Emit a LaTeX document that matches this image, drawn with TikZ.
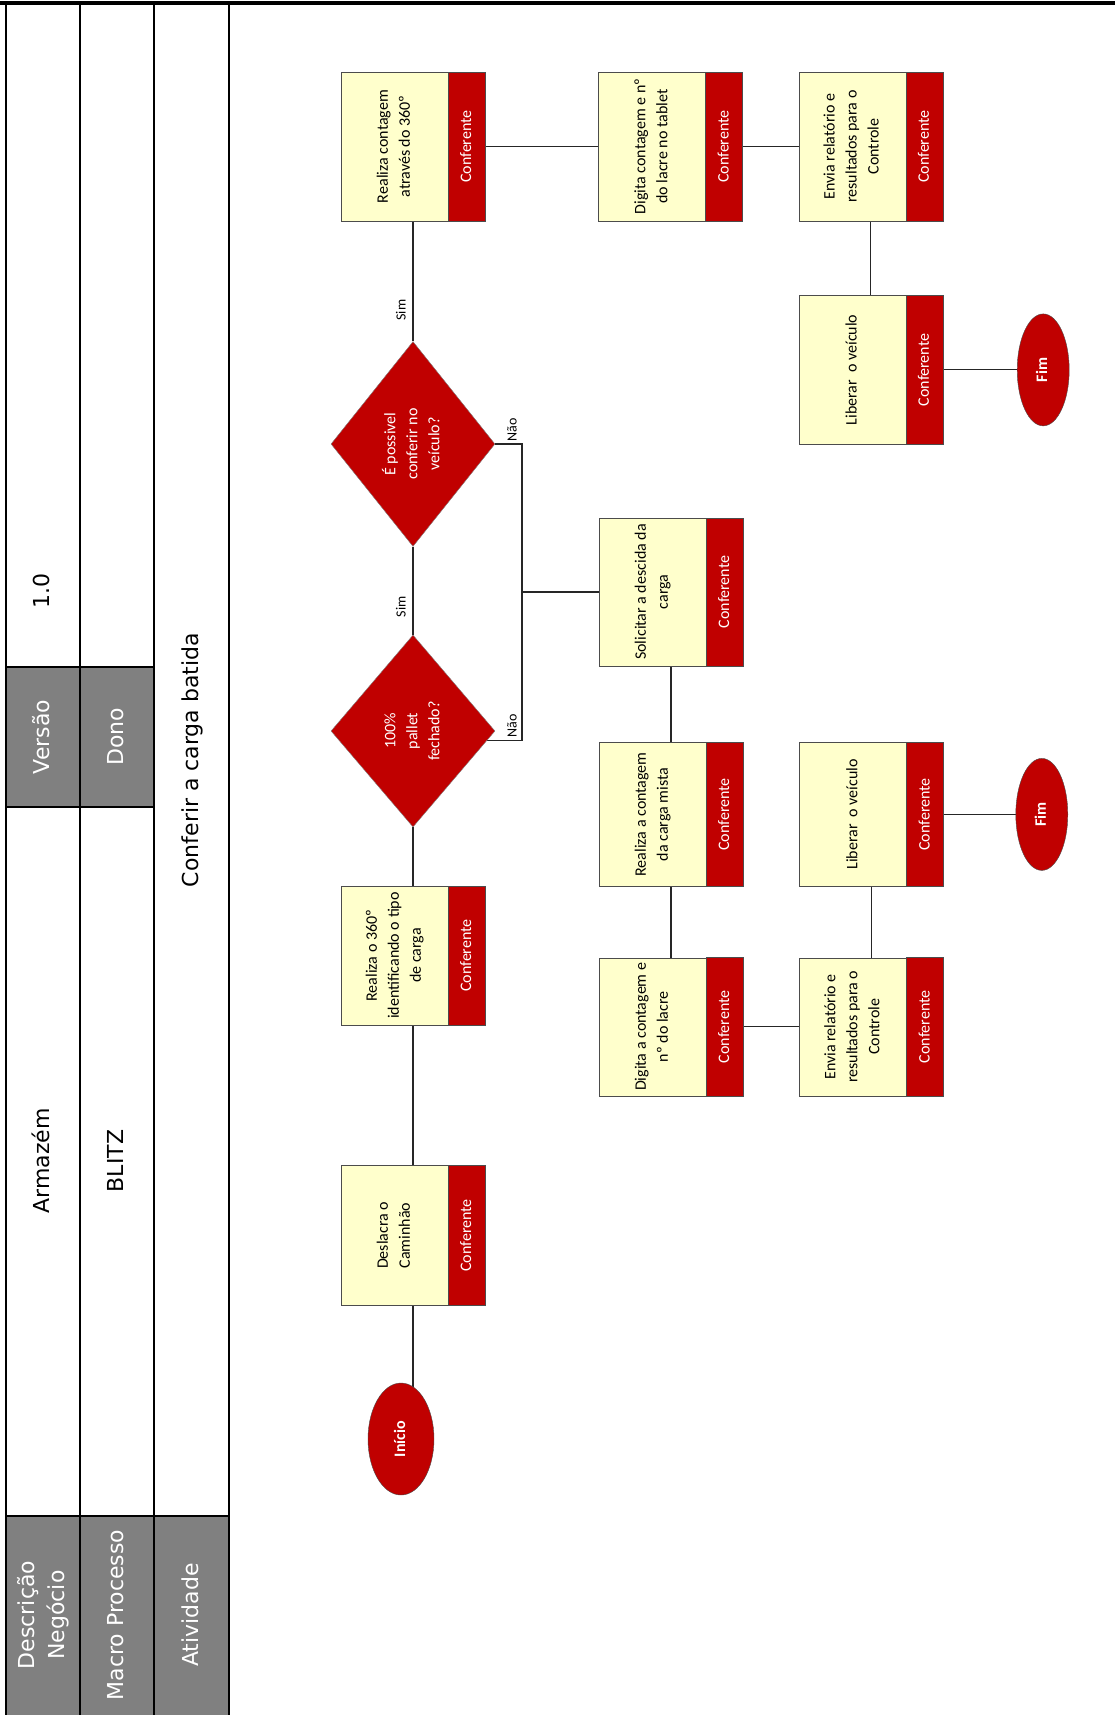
\documentclass[tikz,border=0pt]{standalone}
\usepackage{fontspec}
\setmainfont{Carlito}
\newfontfamily\headfont{DejaVu Sans}
\usepackage{graphicx}
\usetikzlibrary{positioning,shapes.geometric,backgrounds}
\definecolor{vermelho}{RGB}{192,0,0}
\definecolor{amarelo}{RGB}{255,255,204}
\definecolor{cinza}{RGB}{128,128,128}
\newcommand{\vtext}[1]{\rotatebox{90}{\begin{tabular}{@{}c@{}}#1\end{tabular}}}

\begin{document}
\begin{tikzpicture}[x=1pt,y=-1pt,font=\fontsize{16}{22}\selectfont,
   tarefa/.style={draw=black!70,fill=amarelo,minimum width=144pt,minimum height=149pt,
                  inner sep=0pt,execute at end node={\hspace*{37pt}}},
   papel/.style={text=white,inner sep=0pt},
   decisao/.style={diamond,draw=black!50,fill=vermelho,text=white,minimum width=164pt,
                   minimum height=205pt,inner sep=0pt},
   terminal/.style={ellipse,draw=black!70,fill=vermelho,text=white,
                    font=\fontsize{16}{20}\selectfont\bfseries,
                    minimum width=52pt,minimum height=112pt,inner sep=0pt},
   rotulo/.style={font=\fontsize{14}{16}\selectfont,inner sep=2pt},
   cab/.style={font=\headfont\fontsize{22}{30}\selectfont,inner sep=0pt},
   linha/.style={draw=black!85,line width=1.1pt},
   grade/.style={line width=2.2pt}]
  \useasboundingbox (0,0) rectangle (1115,1715);

  % cabecalho
  \fill[cinza] (6,1516) rectangle (229,1715);
  \fill[cinza] (6,667) rectangle (154,807);
  \draw[line width=3.5pt] (0,3) -- (1115,3);
  \foreach \x in {6,80,154,229} \draw[grade] (\x,3) -- (\x,1715);
  \draw[grade] (6,1516) -- (229,1516);
  \draw[grade] (6,667) -- (154,667) (6,807) -- (154,807);

  \node[cab,text=white] (descr) at (43,1615) {\vtext{Descrição\\Negócio}};
  \node[cab,text=white] (macro) at (117,1615) {\vtext{Macro Processo}};
  \node[cab,text=white] (ativ) at (192,1615) {\vtext{Atividade}};
  \node[cab,text=white] (versao) at (43,737) {\vtext{Versão}};
  \node[cab,text=white] (dono) at (117,737) {\vtext{Dono}};
  \node[cab] (numversao) at (43,591) {\vtext{1.0}};
  \node[cab] (armazem) at (43,1161) {\vtext{Armazém}};
  \node[cab] (blitz) at (117,1161) {\vtext{BLITZ}};
  \node[cab] (atividade) at (192,760) {\vtext{Conferir a carga batida}};

  % fluxo principal
  \node[terminal,minimum width=66pt] (inicio) at (401,1439) {\vtext{Início}};
  \node[tarefa,minimum height=139pt] (realiza360) at (413,955.5)
       {\vtext{Realiza o 360º\\identificando o tipo\\de carga}};
  \node[tarefa,minimum height=140pt,below=140pt of realiza360] (deslacra)
       {\vtext{Deslacra o\\Caminhão}};
  \node[decisao,minimum height=192pt] (pallet) at (413,731) {\vtext{100\%\\pallet\\fechado?}};
  \node[decisao] (possivel) at (413,444) {\vtext{É possivel\\conferir no\\veículo?}};
  \node[tarefa] (contagem) at (413,146.5) {\vtext{Realiza contagem\\através do 360º}};
  \node[tarefa,right=113pt of contagem] (digitatablet) {\vtext{Digita contagem e nº\\do lacre no tablet}};
  \node[tarefa,right=56pt of digitatablet] (enviaA) {\vtext{Envia relatório e\\resultados para o\\Controle}};
  \node[tarefa,below=74pt of enviaA] (liberarA) {\vtext{Liberar~ o veículo}};
  \node[terminal,right=74pt of liberarA] (fimA) {\vtext{Fim}};

  % carga mista
  \node[tarefa,minimum height=148pt] (solicitar) at (671,592) {\vtext{Solicitar a descida da\\carga}};
  \node[tarefa,minimum height=144pt,below=76pt of solicitar] (cargamista)
       {\vtext{Realiza a contagem\\da carga mista}};
  \node[tarefa,minimum height=138pt,below=71pt of cargamista] (digitalacre)
       {\vtext{Digita a contagem e\\nº do lacre}};
  \node[tarefa,minimum height=138pt,right=56pt of digitalacre] (enviaB)
       {\vtext{Envia relatório e\\resultados para o\\Controle}};
  \node[tarefa,minimum height=144pt,above=71pt of enviaB] (liberarB) {\vtext{Liberar~ o veículo}};
  \node[terminal,right=72pt of liberarB] (fimB) {\vtext{Fim}};
  \coordinate (nao) at (522,592);

  \foreach \t in {deslacra,realiza360,contagem,digitatablet,enviaA,liberarA,
                  solicitar,cargamista,digitalacre,enviaB,liberarB} {
    \draw[draw=black!70,fill=vermelho] ([xshift=-37pt]\t.north east) rectangle (\t.south east);
    \node[papel] (\t-papel) at ([xshift=-18.5pt]\t.east) {\vtext{Conferente}};
  }

  \begin{scope}[on background layer]
    \draw[linha] (deslacra) -- (deslacra |- inicio);
    \draw[linha] (realiza360) -- (deslacra);
    \draw[linha] (pallet) -- (realiza360);
    \draw[linha] (possivel.south) -- node[rotulo,pos=0.68,left] {\vtext{Sim}} (pallet.north);
    \draw[linha] (contagem.south) -- node[rotulo,pos=0.74,left] {\vtext{Sim}} (possivel.north);
    \draw[linha] (contagem) -- (digitatablet);
    \draw[linha] (digitatablet) -- (enviaA);
    \draw[linha] (enviaA) -- (liberarA);
    \draw[linha] (liberarA) -- (fimA);
    \draw[linha] (possivel.east) -- node[rotulo,pos=0.68,above] {\vtext{Não}} (possivel.east -| nao)
         -- (nao) -- (solicitar.west);
    \draw[linha] (pallet.-7) -- node[rotulo,pos=0.75,above] {\vtext{Não}} (pallet.-7 -| nao) -- (nao);
    \draw[linha] (solicitar) -- (cargamista);
    \draw[linha] (cargamista) -- (digitalacre);
    \draw[linha] (digitalacre) -- (enviaB);
    \draw[linha] (enviaB) -- (liberarB);
    \draw[linha] (liberarB) -- (fimB);
  \end{scope}
\end{tikzpicture}
\end{document}
